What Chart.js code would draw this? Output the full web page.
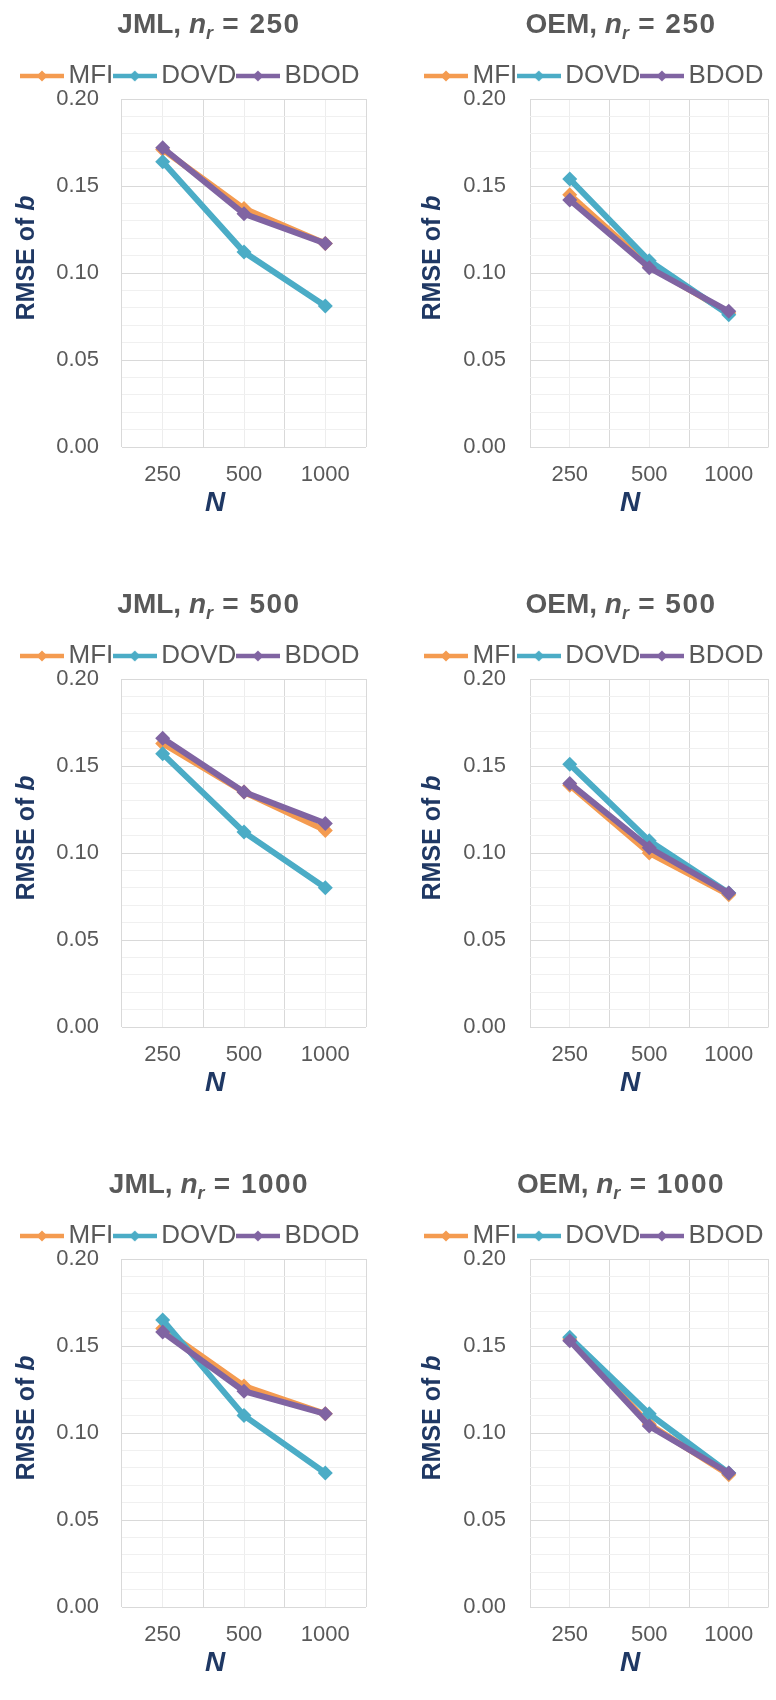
<!DOCTYPE html>
<html>
<head>
<meta charset="utf-8">
<script src="https://cdn.jsdelivr.net/npm/chart.js@4.4.1/dist/chart.umd.min.js"></script>
<style>
  body { margin: 0; background: #fff; }
  #sheet { position: relative; width: 776px; height: 1700px; overflow: hidden; }
  #sheet canvas { position: absolute; }
</style>
</head>
<body>
<div id="sheet"></div>
<script>
// categories
const sampleSizes = ['250', '500', '1000'];
const seriesNames = ['MFI', 'DOVD', 'BDOD'];
const seriesColors = ['#F49B50', '#4BACC6', '#8064A2'];
const methods = ['JML', 'OEM'];
const respondents = ['250', '500', '1000'];

// RMSE of b, one array per series and panel (values at N = 250, 500, 1000)
const jml250Mfi = [0.171, 0.137, 0.117];
const jml250Dovd = [0.164, 0.112, 0.081];
const jml250Bdod = [0.172, 0.134, 0.117];
const oem250Mfi = [0.145, 0.104, 0.077];
const oem250Dovd = [0.154, 0.107, 0.076];
const oem250Bdod = [0.142, 0.103, 0.078];

const jml500Mfi = [0.163, 0.135, 0.113];
const jml500Dovd = [0.157, 0.112, 0.080];
const jml500Bdod = [0.166, 0.135, 0.117];
const oem500Mfi = [0.139, 0.100, 0.076];
const oem500Dovd = [0.151, 0.107, 0.077];
const oem500Bdod = [0.140, 0.103, 0.077];

const jml1000Mfi = [0.160, 0.127, 0.111];
const jml1000Dovd = [0.165, 0.110, 0.077];
const jml1000Bdod = [0.158, 0.124, 0.111];
const oem1000Mfi = [0.154, 0.105, 0.076];
const oem1000Dovd = [0.155, 0.111, 0.077];
const oem1000Bdod = [0.153, 0.104, 0.077];

const panels = [
  [[jml250Mfi, jml250Dovd, jml250Bdod], [oem250Mfi, oem250Dovd, oem250Bdod]],
  [[jml500Mfi, jml500Dovd, jml500Bdod], [oem500Mfi, oem500Dovd, oem500Bdod]],
  [[jml1000Mfi, jml1000Dovd, jml1000Bdod], [oem1000Mfi, oem1000Dovd, oem1000Bdod]],
];

const FONT = '"Liberation Sans", Arial, sans-serif';
const GREY = '#595959';
const NAVY = '#1F3864';

// the two columns of the picture are not laid out quite the same way
const columns = [
  { left: 0, padLeft: 0, axisWidth: 122, gapRight: 22, tickPad: 23, titleX: 209, yTitleX: 25, nX: 215 },
  { left: 388, padLeft: 32, axisWidth: 110, gapRight: 5, tickPad: 24, titleX: 233, yTitleX: 43, nX: 242 },
];
const rowTops = [0, 580, 1160];

function legendMarker(color) {
  let c = document.createElement('canvas');
  c.width = 44;
  c.height = 16;
  let g = c.getContext('2d');
  g.strokeStyle = color;
  g.lineWidth = 4.5;
  g.beginPath();
  g.moveTo(0, 8);
  g.lineTo(44, 8);
  g.stroke();
  g.fillStyle = color;
  g.beginPath();
  g.moveTo(22, 2.5);
  g.lineTo(27.5, 8);
  g.lineTo(22, 13.5);
  g.lineTo(16.5, 8);
  g.closePath();
  g.fill();
  return c;
}

const markers = seriesColors.map(legendMarker);

// draws runs of text with their own fonts, centred on cx
function drawRuns(ctx, runs, cx, y) {
  let total = 0;
  for (let r of runs) {
    ctx.font = r.font;
    r.width = 0;
    for (let ch of r.text) {
      r.width += ctx.measureText(ch).width + (r.spacing || 0);
    }
    total += r.width;
  }
  let x = cx - total / 2;
  ctx.textAlign = 'left';
  ctx.textBaseline = 'alphabetic';
  for (let r of runs) {
    ctx.font = r.font;
    for (let ch of r.text) {
      ctx.fillText(ch, x, y + (r.dy || 0));
      x += ctx.measureText(ch).width + (r.spacing || 0);
    }
  }
}

// titles with mixed bold / italic / subscript text
const annotations = {
  id: 'annotations',
  afterDraw(chart, args, opts) {
    let ctx = chart.ctx;
    ctx.save();

    ctx.fillStyle = GREY;
    drawRuns(ctx, [
      { text: opts.method + ', ', font: `bold 28px ${FONT}` },
      { text: 'n', font: `italic bold 28px ${FONT}` },
      { text: 'r', font: `italic bold 18px ${FONT}`, dy: 6 },
      { text: ' = ' + opts.respondents, font: `bold 28px ${FONT}`, spacing: 1.5 },
    ], opts.titleX, 33);

    ctx.fillStyle = NAVY;
    ctx.save();
    ctx.translate(opts.yTitleX, 258);
    ctx.rotate(-Math.PI / 2);
    drawRuns(ctx, [
      { text: 'RMSE of ', font: `bold 25px ${FONT}` },
      { text: 'b', font: `italic bold 25px ${FONT}` },
    ], 0, 9);
    ctx.restore();

    drawRuns(ctx, [{ text: 'N', font: `italic bold 28px ${FONT}` }], opts.nX, 511);
    ctx.restore();
  }
};

function isMajor(value) {
  return Math.round(value * 100) % 5 === 0;
}

function makePanel(row, col) {
  let layout = columns[col];
  let canvas = document.createElement('canvas');
  canvas.width = 388;
  canvas.height = 540;
  canvas.style.left = layout.left + 'px';
  canvas.style.top = rowTops[row] + 'px';
  document.getElementById('sheet').appendChild(canvas);

  let datasets = seriesNames.map((name, i) => ({
    label: name,
    data: panels[row][col][i],
    xAxisID: 'x',
    yAxisID: 'y',
    order: seriesNames.length - 1 - i,
    borderColor: seriesColors[i],
    backgroundColor: seriesColors[i],
    borderWidth: 6,
    tension: 0,
    pointStyle: 'rectRot',
    pointRadius: 7.5,
    pointBorderWidth: 0,
    pointBackgroundColor: seriesColors[i],
  }));

  let options = {
    responsive: false,
    animation: false,
    events: [],
    layout: { padding: { top: 46, left: layout.padLeft, right: 0, bottom: 0 } },
    plugins: {
      title: { display: false },
      tooltip: { enabled: false },
      legend: {
        display: true,
        position: 'top',
        align: 'center',
        labels: {
          usePointStyle: true,
          pointStyleWidth: 27,
          padding: 8,
          color: GREY,
          font: { family: FONT, size: 26 },
          generateLabels: () => seriesNames.map((name, i) => ({
            text: name,
            datasetIndex: i,
            pointStyle: markers[i],
            fillStyle: seriesColors[i],
            strokeStyle: seriesColors[i],
            lineWidth: 0,
            fontColor: GREY,
            hidden: false,
          })),
        },
      },
      annotations: {
        method: methods[col],
        respondents: respondents[row],
        titleX: layout.titleX,
        yTitleX: layout.yTitleX,
        nX: layout.nX,
      },
    },
    scales: {
      x: {
        type: 'category',
        labels: sampleSizes,
        position: 'bottom',
        offset: true,
        grid: { offset: true, color: '#D9D9D9', drawTicks: false },
        border: { display: false },
        ticks: { color: GREY, font: { family: FONT, size: 22 }, padding: 15, maxRotation: 0 },
        afterFit: (s) => { s.height = 93; s.paddingLeft = 0; s.paddingRight = layout.gapRight; },
      },
      xc: {
        type: 'category',
        labels: sampleSizes,
        position: 'bottom',
        offset: true,
        grid: { offset: false, color: '#EDEDED', drawTicks: false },
        border: { display: false },
        ticks: { display: false },
        afterFit: (s) => { s.height = 0; s.paddingLeft = 0; s.paddingRight = 0; },
      },
      y: {
        type: 'linear',
        min: 0,
        max: 0.2,
        grid: {
          color: (c) => isMajor(c.tick.value) ? '#D9D9D9' : '#F0F0F0',
          drawTicks: false,
        },
        border: { display: false },
        ticks: {
          stepSize: 0.01,
          autoSkip: false,
          maxTicksLimit: 50,
          color: GREY,
          font: { family: FONT, size: 22 },
          padding: layout.tickPad,
          callback: (v) => isMajor(v) ? v.toFixed(2) : '',
        },
        afterFit: (s) => { s.width = layout.axisWidth; s.paddingTop = 99; s.paddingBottom = 0; },
      },
    },
  };

  return new Chart(canvas, {
    type: 'line',
    data: { labels: sampleSizes, datasets },
    options,
    plugins: [annotations],
  });
}

for (let row = 0; row < rowTops.length; row++) {
  for (let col = 0; col < columns.length; col++) {
    makePanel(row, col);
  }
}
</script>
</body>
</html>
